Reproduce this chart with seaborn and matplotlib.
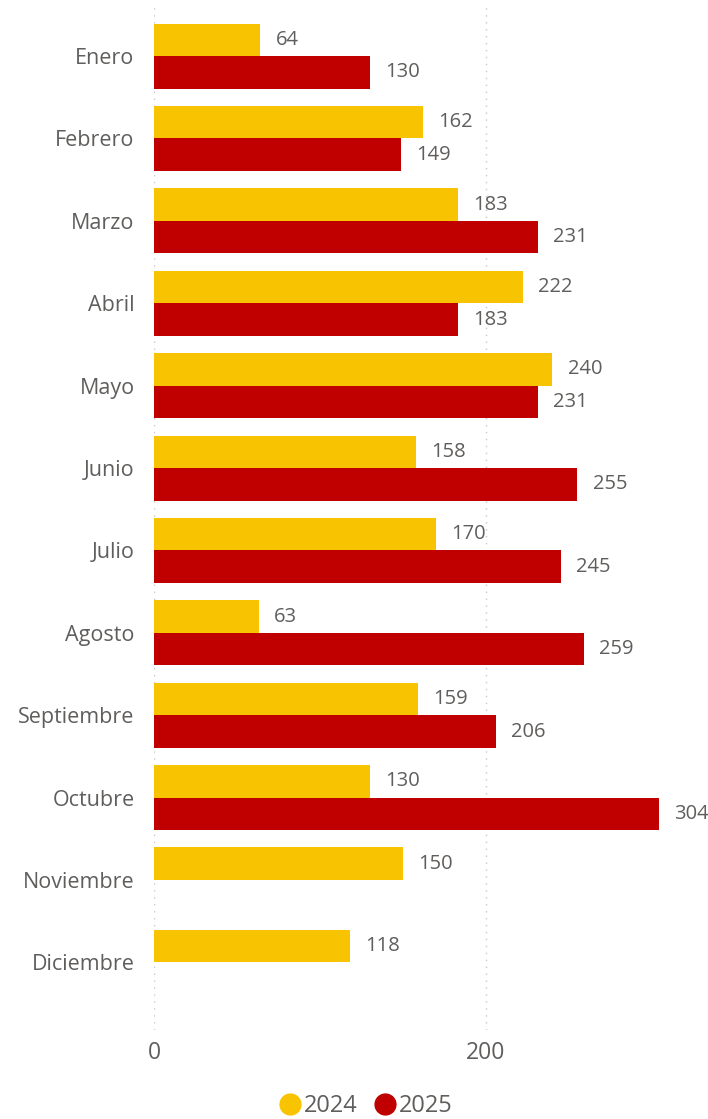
import numpy as np
import pandas as pd
import matplotlib.pyplot as plt
import seaborn as sns

# Data
meses = ["Enero", "Febrero", "Marzo", "Abril", "Mayo", "Junio", "Julio",
         "Agosto", "Septiembre", "Octubre", "Noviembre", "Diciembre"]
valores_2024 = [64, 162, 183, 222, 240, 158, 170, 63, 159, 130, 150, 118]
valores_2025 = [130, 149, 231, 183, 231, 255, 245, 259, 206, 304, np.nan, np.nan]
anios = ["2024", "2025"]
colores = ["#F8C300", "#C00000"]

df = pd.DataFrame({
    "mes": meses * 2,
    "valor": valores_2024 + valores_2025,
    "anio": [anios[0]] * 12 + [anios[1]] * 12,
})
df = df.dropna()

sns.set_style("white")
plt.rcParams["font.family"] = ["Open Sans", "DejaVu Sans"]
gris = "#605E5C"

fig = plt.figure(figsize=(7.08, 11.19), dpi=100)
ax = fig.add_axes([154 / 708, 1 - 1030 / 1119, (708 - 154) / 708, 1025 / 1119])

sns.barplot(data=df, y="mes", x="valor", hue="anio", order=meses,
            hue_order=anios, palette=colores, orient="h", width=0.79,
            saturation=1, errorbar=None, legend=False, linewidth=0, ax=ax)

for cont in ax.containers:
    ax.bar_label(cont, fmt="%.0f", padding=11, color=gris, fontsize=14.5)

ax.set_xlim(0, 333.7)
ax.set_ylim(11.82, -0.62)
ax.set_xticks([0, 200])
ax.set_xticklabels(["0", "200"], fontsize=16.5, color=gris)
ax.tick_params(axis="x", length=0, pad=8)
ax.tick_params(axis="y", length=0, pad=14, labelsize=15.5, labelcolor=gris)
ax.set_xlabel("")
ax.set_ylabel("")
for s in ax.spines.values():
    s.set_visible(False)
for xv in [0, 200]:
    ax.axvline(xv, color="#C8C8C8", linestyle=(0, (1, 4)), linewidth=1, zorder=0)
ax.set_axisbelow(True)

# Legend with round markers at the bottom center
handles = [plt.Line2D([], [], marker="o", linestyle="", markersize=15,
                      markerfacecolor=c, markeredgecolor=c) for c in colores]
fig.legend(handles, anios, loc="center", bbox_to_anchor=(366 / 708, 1 - 1106 / 1119),
           ncol=2, frameon=False, fontsize=17, handlelength=0.9,
           handletextpad=0.15, columnspacing=0.7, labelcolor=gris)

fig.savefig("out.png", dpi=100)
